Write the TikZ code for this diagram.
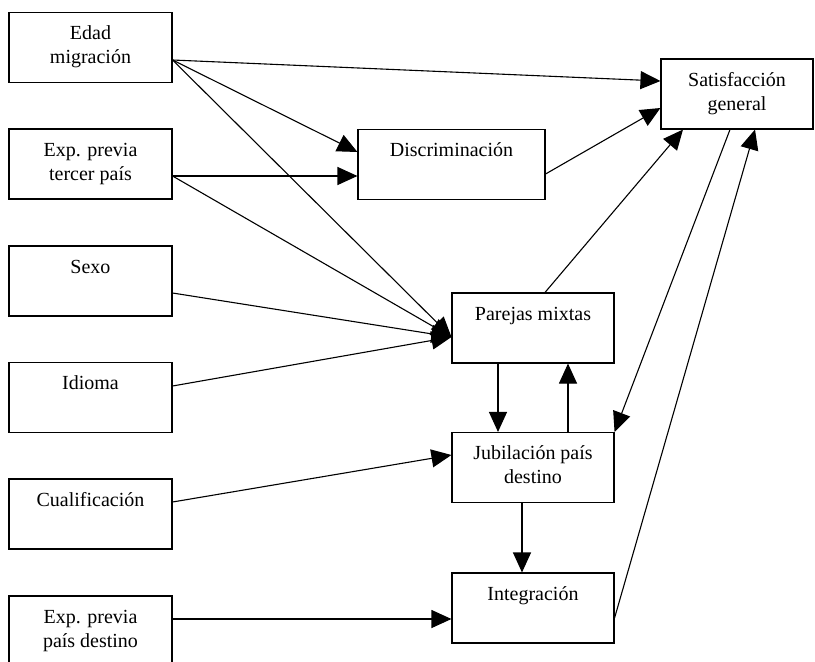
\documentclass[tikz,border=0pt]{standalone}
\usepackage{fontspec}
\setmainfont{Liberation Serif}
\usetikzlibrary{arrows.meta}
\newcommand{\rotulo}[2]{%
	\parbox[c][70pt][t]{#1}{\centering\rule{0pt}{27pt}#2}%
}

\begin{document}
\begin{tikzpicture}[x=1pt,y=-1pt,
		caja/.style={draw,line width=1.1pt,inner sep=0pt,font=\fontsize{20}{24}\selectfont},
		flecha/.style={line width=1.1pt,-{Triangle[length=20pt,width=18pt]}}]
		\useasboundingbox (0,0) rectangle (815,662);
		\clip (0,0) rectangle (815,662);
		\node[caja] (edad) at (90.5,47.5) {\rotulo{163pt}{Edad\\migración}};
		\node[caja] (tercer) at (90.5,164) {\rotulo{163pt}{Exp. previa\\tercer país}};
		\node[caja] (sexo) at (90.5,281) {\rotulo{163pt}{Sexo}};
		\node[caja] (idioma) at (90.5,397.5) {\rotulo{163pt}{Idioma}};
		\node[caja] (cualif) at (90.5,514) {\rotulo{163pt}{Cualificación}};
		\node[caja] (destino) at (90.5,631) {\rotulo{163pt}{Exp. previa\\país destino}};
		\node[caja] (discrim) at (451.5,164.5) {\rotulo{187pt}{Discriminación}};
		\node[caja] (satisf) at (737,94) {\rotulo{152pt}{Satisfacción\\general}};
		\node[caja] (parejas) at (533,328) {\rotulo{162pt}{Parejas mixtas}};
		\node[caja] (jubil) at (533,467.5) {\rotulo{162pt}{Jubilación país\\destino}};
		\node[caja] (integ) at (533,608) {\rotulo{162pt}{Integración}};
		\draw[flecha] ([yshift=-12.5pt]edad.east) -- ([yshift=13pt]satisf.west);
		\draw[flecha] ([yshift=-12.5pt]edad.east) -- ([yshift=12.5pt]discrim.west);
		\draw[flecha] ([yshift=-12.5pt]edad.east) -- ([yshift=-9pt]parejas.west);
		\draw[flecha] ([yshift=-12pt]tercer.east) -- ([yshift=-11.5pt]discrim.west);
		\draw[flecha] ([yshift=-12pt]tercer.east) -- ([yshift=-9pt]parejas.west);
		\draw[flecha] ([yshift=-12pt]sexo.east) -- ([yshift=-9pt]parejas.west);
		\draw[flecha] ([yshift=11.5pt]idioma.east) -- ([yshift=-9pt]parejas.west);
		\draw[flecha] ([yshift=12pt]cualif.east) -- ([yshift=12.5pt]jubil.west);
		\draw[flecha] ([yshift=12pt]destino.east) -- ([yshift=-11pt]integ.west);
		\draw[flecha] ([yshift=-9.5pt]discrim.east) -- ([yshift=-14pt]satisf.west);
		\draw[flecha] ([xshift=12pt]parejas.north) -- ([xshift=-54pt]satisf.south);
		\draw[flecha] ([xshift=-7pt]satisf.south) -- (jubil.north east);
		\draw[flecha] ([yshift=-10pt]integ.east) -- ([xshift=18pt]satisf.south);
		\draw[flecha] ([xshift=-35pt]parejas.south) -- ([xshift=-35pt]jubil.north);
		\draw[flecha] ([xshift=35pt]jubil.north) -- ([xshift=35pt]parejas.south);
		\draw[flecha] ([xshift=-11pt]jubil.south) -- ([xshift=-11pt]integ.north);
	\end{tikzpicture}
\end{document}
